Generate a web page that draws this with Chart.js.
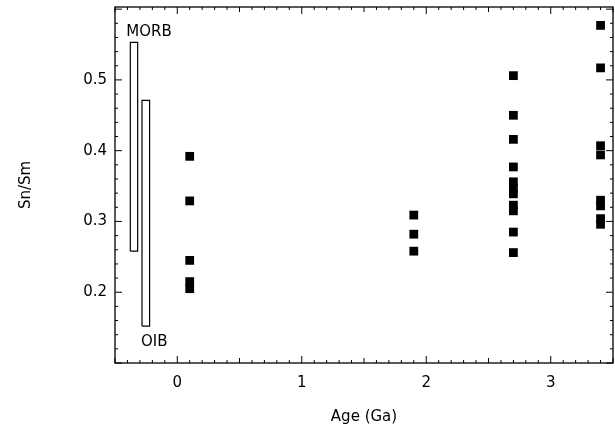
<!DOCTYPE html>
<html>
<head>
<meta charset="utf-8">
<script src="https://cdn.jsdelivr.net/npm/chart.js@4.4.1/dist/chart.umd.min.js"></script>
<style>
  html, body { margin: 0; padding: 0; background: #fff; }
  #wrap { width: 615px; height: 426px; }
</style>
</head>
<body>
<div id="wrap"><canvas id="mycanvas" width="615" height="426"></canvas></div>
<script>
// Sn/Sm vs age, one column of samples per age
var ages = [0.1, 1.9, 2.7, 3.4];
var snsm_01 = [0.392, 0.329, 0.245, 0.215, 0.205];
var snsm_19 = [0.309, 0.282, 0.258];
var snsm_27 = [0.506, 0.450, 0.416, 0.377, 0.356, 0.347, 0.339, 0.323, 0.315, 0.285, 0.256];
var snsm_34 = [0.577, 0.517, 0.407, 0.394, 0.330, 0.322, 0.304, 0.296];

// range bars for modern basalts: [xLeft, xRight], [yLow, yHigh]
var morbX = [-0.377, -0.318];
var morbY = [0.258, 0.553];
var oibX = [-0.283, -0.222];
var oibY = [0.152, 0.471];

var xTicks = [0, 1, 2, 3];
var yTicks = [0.2, 0.3, 0.4, 0.5];

var FONT = 'DejaVu Sans';

function column(x, ys) {
	var pts = [];
	for (var i in ys) pts.push({x: x, y: ys[i]});
	return pts;
}
function box(xs, ys) {
	return [
		{x: xs[0], y: ys[0]}, {x: xs[1], y: ys[0]},
		{x: xs[1], y: ys[1]}, {x: xs[0], y: ys[1]},
		{x: xs[0], y: ys[0]}
	];
}

var allPts = column(ages[0], snsm_01)
	.concat(column(ages[1], snsm_19))
	.concat(column(ages[2], snsm_27))
	.concat(column(ages[3], snsm_34));

// inward ticks on all four sides + frame + MORB/OIB labels
var framePlugin = {
	id: 'frame',
	afterDatasetsDraw: function(chart) {
		var ctx = chart.ctx, a = chart.chartArea;
		var xs = chart.scales.x, ys = chart.scales.y;
		ctx.save();
		ctx.strokeStyle = '#000';
		ctx.lineWidth = 1.3;
		ctx.strokeRect(a.left, a.top, a.right - a.left, a.bottom - a.top);
		ctx.lineWidth = 1;
		ctx.beginPath();
		// x: every 0.1, longer at 0.5 and whole numbers
		for (var k = -5; k <= 35; k++) {
			var px = xs.getPixelForValue(k / 10);
			var len = (k % 10 === 0) ? 7 : ((Math.abs(k) % 5 === 0) ? 5 : 3);
			ctx.moveTo(px, a.bottom); ctx.lineTo(px, a.bottom - len);
			ctx.moveTo(px, a.top); ctx.lineTo(px, a.top + len);
		}
		// y: every 0.02, longer at 0.1
		for (var j = 5; j <= 30; j++) {
			var py = ys.getPixelForValue(j / 50);
			var l2 = (j % 5 === 0) ? 7 : 3;
			ctx.moveTo(a.left, py); ctx.lineTo(a.left + l2, py);
			ctx.moveTo(a.right, py); ctx.lineTo(a.right - l2, py);
		}
		ctx.stroke();

		ctx.fillStyle = '#000';
		ctx.font = '15px "' + FONT + '"';
		ctx.textBaseline = 'middle';
		ctx.textAlign = 'left';
		ctx.fillText('MORB', xs.getPixelForValue(-0.409), ys.getPixelForValue(0.568));
		ctx.fillText('OIB', xs.getPixelForValue(-0.291), ys.getPixelForValue(0.130));
		ctx.restore();
	}
};

var ctx = document.getElementById('mycanvas');

var chart = new Chart(ctx, {
	type: 'scatter',
	data: {
		datasets: [
			{
				label: 'Sn/Sm',
				data: allPts,
				pointStyle: 'rect',
				pointRadius: 6.2,
				borderWidth: 0,
				backgroundColor: '#000'
			},
			{
				label: 'MORB',
				data: box(morbX, morbY),
				showLine: true,
				pointRadius: 0,
				borderColor: '#000',
				borderWidth: 1.2,
				fill: false
			},
			{
				label: 'OIB',
				data: box(oibX, oibY),
				showLine: true,
				pointRadius: 0,
				borderColor: '#000',
				borderWidth: 1.2,
				fill: false
			}
		]
	},
	options: {
		responsive: false,
		animation: false,
		layout: { autoPadding: false, padding: { top: 7, right: 2, left: 0, bottom: 0 } },
		plugins: {
			legend: { display: false },
			tooltip: { enabled: false }
		},
		scales: {
			x: {
				type: 'linear',
				min: -0.5,
				max: 3.5,
				afterFit: function(s) {
					s.height = 63;
					s.paddingLeft = 0; s.paddingRight = 0;
				},
				afterBuildTicks: function(s) {
					s.ticks = xTicks.map(function(v) { return {value: v}; });
				},
				grid: { display: false, drawTicks: false },
				border: { display: false },
				ticks: {
					color: '#000',
					padding: 11,
					font: { family: FONT, size: 15 },
					callback: function(v) { return String(v); }
				},
				title: {
					display: true,
					text: 'Age (Ga)',
					color: '#000',
					font: { family: FONT, size: 15 },
					padding: { top: 0, bottom: 0 }
				}
			},
			y: {
				type: 'linear',
				min: 0.1,
				max: 0.603,
				afterFit: function(s) {
					s.width = 115;
					s.paddingTop = 0; s.paddingBottom = 0;
				},
				afterBuildTicks: function(s) {
					s.ticks = yTicks.map(function(v) { return {value: v}; });
				},
				grid: { display: false, drawTicks: false },
				border: { display: false },
				ticks: {
					color: '#000',
					padding: 8,
					font: { family: FONT, size: 15 },
					callback: function(v) { return v.toFixed(1); }
				},
				title: {
					display: true,
					text: 'Sn/Sm',
					color: '#000',
					font: { family: FONT, size: 15 },
					padding: { top: 17, bottom: 0 }
				}
			}
		}
	},
	plugins: [framePlugin]
});
</script>
</body>
</html>
